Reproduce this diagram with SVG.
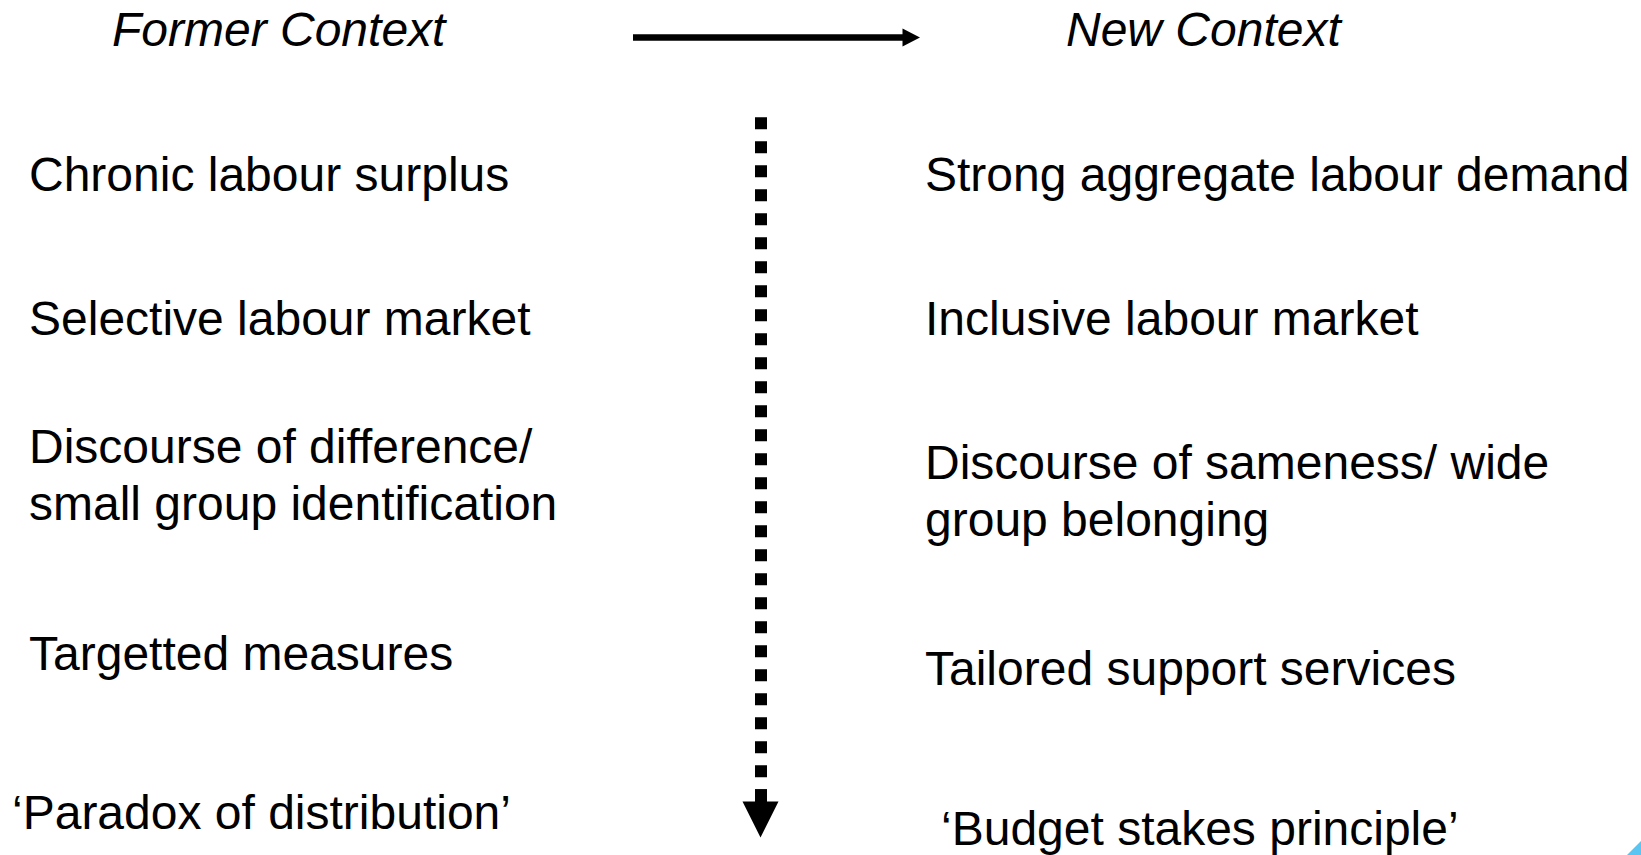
<svg xmlns="http://www.w3.org/2000/svg" width="1641" height="855" viewBox="0 0 1641 855">
<style>
text{font-family:"Liberation Sans",Arial,sans-serif;font-size:48px;fill:#000}
.h{font-style:italic}
</style>
<rect width="1641" height="855" fill="#fff"/>
<g id="connectors">
<line x1="633" y1="37.5" x2="904" y2="37.5" stroke="#000" stroke-width="6.3"/>
<polygon points="902.5,28.5 920,37.5 902.5,46.5" fill="#000"/>
<line x1="761" y1="117.3" x2="761" y2="802" stroke="#000" stroke-width="12" stroke-dasharray="12 12"/>
<rect x="755" y="789.3" width="12" height="13" fill="#000"/>
<polygon points="742.5,801.5 778.5,801.5 760.5,837.5" fill="#000"/>
</g>
<g id="header-former"><text class="h" x="112" y="46">Former Context</text></g>
<g id="header-new"><text class="h" x="1066" y="46">New Context</text></g>
<g id="former-1"><text x="29" y="191">Chronic labour surplus</text></g>
<g id="former-2"><text x="29" y="335">Selective labour market</text></g>
<g id="former-3"><text x="29" y="463">Discourse of difference/</text><text x="29" y="520">small group identification</text></g>
<g id="former-4"><text x="29" y="670">Targetted measures</text></g>
<g id="former-5"><text x="12" y="829">‘Paradox of distribution’</text></g>
<g id="new-1"><text x="925" y="191">Strong aggregate labour demand</text></g>
<g id="new-2"><text x="925" y="335">Inclusive labour market</text></g>
<g id="new-3"><text x="925" y="479">Discourse of sameness/ wide</text><text x="925" y="536">group belonging</text></g>
<g id="new-4"><text x="925" y="685">Tailored support services</text></g>
<g id="new-5"><text x="941" y="845">‘Budget stakes principle’</text></g>
<polygon points="1627,855 1641,841 1641,855" fill="#5BC5F2"/>
</svg>
